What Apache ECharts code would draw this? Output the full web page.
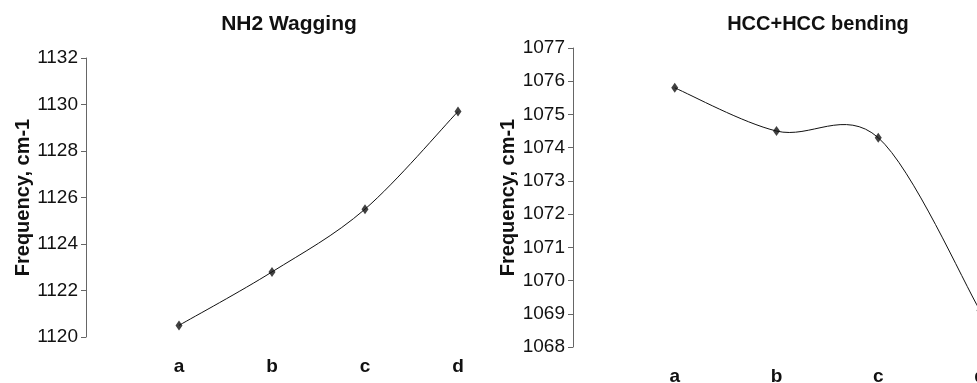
<!DOCTYPE html>
<html>
<head>
<meta charset="utf-8">
<script src="https://cdn.jsdelivr.net/npm/echarts@6/dist/echarts.min.js"></script>
<style>
  html, body { margin: 0; padding: 0; background: #fff; }
  #chart { width: 977px; height: 383px; }
</style>
</head>
<body>
<div id="chart"></div>
<script>
// categories on the x axis (placed at 1..4)
const categories = ['a', 'b', 'c', 'd'];
// NH2 wagging frequencies
const nh2Values = [1120.5, 1122.8, 1125.5, 1129.7];
// HCC+HCC bending frequencies
const hccValues = [1075.8, 1074.5, 1074.3, 1069.1];

const font = 'Liberation Sans, Arial, sans-serif';

function points(vals) {
  return vals.map((v, i) => [i + 1, v]);
}

// spreadsheet-style smoothed line: one bezier segment per point pair,
// control points taken from the neighbours (catmull-rom, tension 1/6)
function smoothLine(vals) {
  const pts = points(vals);
  return function (params, api) {
    const i = params.dataIndex;
    if (i >= pts.length - 1) return null;
    const p = pts.map(d => api.coord(d));
    const p0 = p[Math.max(i - 1, 0)], p1 = p[i], p2 = p[i + 1], p3 = p[Math.min(i + 2, p.length - 1)];
    return {
      type: 'bezierCurve',
      shape: {
        x1: p1[0], y1: p1[1],
        cpx1: p1[0] + (p2[0] - p0[0]) / 6, cpy1: p1[1] + (p2[1] - p0[1]) / 6,
        cpx2: p2[0] - (p3[0] - p1[0]) / 6, cpy2: p2[1] - (p3[1] - p1[1]) / 6,
        x2: p2[0], y2: p2[1]
      },
      style: { stroke: '#111', lineWidth: 1, fill: null }
    };
  };
}

function xAxisFor(idx) {
  return {
    gridIndex: idx,
    type: 'value',
    min: 0,
    max: 4,
    interval: 1,
    axisLine: { show: false },
    axisTick: { show: false },
    splitLine: { show: false },
    axisLabel: {
      margin: 20,
      fontFamily: font,
      fontSize: 19,
      fontWeight: 'bold',
      color: '#111',
      formatter: v => categories[v - 1] || ''
    }
  };
}

function yAxisFor(idx, min, max, interval, gap) {
  return {
    gridIndex: idx,
    type: 'value',
    min: min,
    max: max,
    interval: interval,
    name: 'Frequency, cm-1',
    nameLocation: 'middle',
    nameGap: gap,
    nameTextStyle: { fontFamily: font, fontSize: 20, fontWeight: 'bold', color: '#111' },
    axisLine: { show: true, lineStyle: { color: '#666', width: 1 } },
    axisTick: { show: true, length: 5, lineStyle: { color: '#666' } },
    splitLine: { show: false },
    axisLabel: { margin: 8, fontFamily: font, fontSize: 19, color: '#111', formatter: v => String(v) }
  };
}

function seriesFor(idx, vals) {
  return [
    {
      type: 'custom', xAxisIndex: idx, yAxisIndex: idx,
      data: points(vals),
      renderItem: smoothLine(vals),
      silent: true,
      z: 2
    },
    {
      type: 'scatter', xAxisIndex: idx, yAxisIndex: idx,
      data: points(vals),
      symbol: 'diamond', symbolSize: [7, 10],
      itemStyle: { color: '#111' },
      z: 3
    }
  ];
}

const chart = echarts.init(document.getElementById('chart'));
chart.setOption({
  animation: false,
  backgroundColor: '#fff',
  title: [
    { text: 'NH2 Wagging', left: 289, top: 14, textAlign: 'center', padding: 0,
      textStyle: { fontFamily: font, fontSize: 21, fontWeight: 'bold', color: '#111' } },
    { text: 'HCC+HCC bending', left: 818, top: 14, textAlign: 'center', padding: 0,
      textStyle: { fontFamily: font, fontSize: 20, fontWeight: 'bold', color: '#111' } }
  ],
  grid: [
    { left: 86, top: 58, width: 372, bottom: 46, outerBoundsMode: 'none', containLabel: false },
    { left: 573, top: 48, width: 407, bottom: 36, outerBoundsMode: 'none', containLabel: false }
  ],
  xAxis: [xAxisFor(0), xAxisFor(1)],
  yAxis: [yAxisFor(0, 1120, 1132, 2, 53), yAxisFor(1, 1068, 1077, 1, 53)],
  series: seriesFor(0, nh2Values).concat(seriesFor(1, hccValues))
});
</script>
</body>
</html>
